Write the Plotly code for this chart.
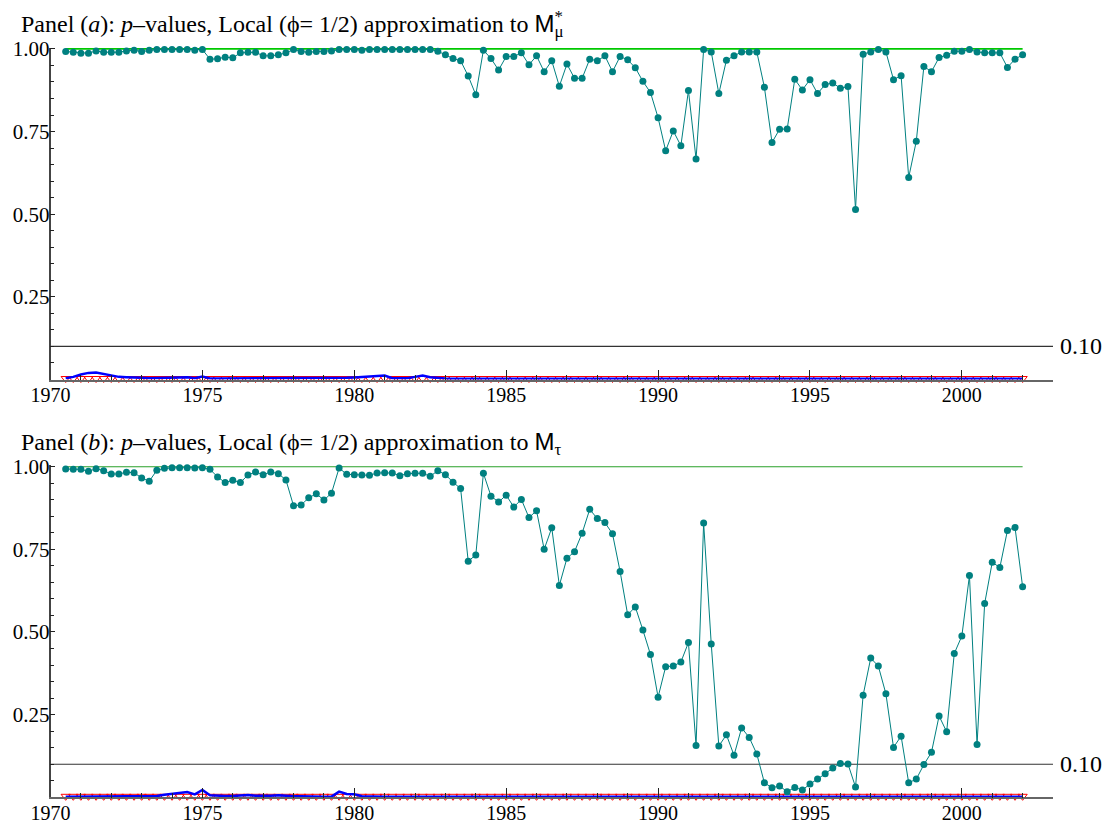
import pandas as pd
import plotly.graph_objects as go

# quarterly sample 1970Q3 - 2002Q1
periods = pd.period_range("1970Q3", "2002Q1", freq="Q")
dates = [p.year + (p.quarter - 1) / 4 for p in periods]

# panel (a): p-values, local approximation to M*_mu
pval_a = [
    0.992, 0.990, 0.987, 0.987, 0.994, 0.990, 0.990, 0.990, 0.994, 0.996,
    0.992, 0.996, 0.998, 0.998, 0.998, 0.998, 0.998, 0.996, 0.998, 0.969,
    0.970, 0.975, 0.973, 0.988, 0.990, 0.990, 0.979, 0.979, 0.982, 0.988,
    0.998, 0.992, 0.990, 0.992, 0.992, 0.994, 0.998, 0.998, 0.998, 0.996,
    0.998, 0.998, 0.998, 0.998, 0.998, 0.998, 0.998,
    0.998, 0.998, 0.993, 0.982, 0.971, 0.964, 0.918, 0.861, 0.996, 0.971,
    0.936, 0.977, 0.977, 0.988, 0.952, 0.979, 0.931, 0.964, 0.887, 0.954,
    0.911, 0.911, 0.969, 0.964, 0.979, 0.931, 0.977, 0.967, 0.943, 0.902,
    0.868, 0.792, 0.692, 0.752, 0.707, 0.874, 0.667, 0.998, 0.991, 0.865,
    0.966, 0.979, 0.991, 0.991, 0.991, 0.884, 0.717, 0.757, 0.758, 0.908,
    0.876, 0.907, 0.865, 0.892, 0.897, 0.881, 0.886, 0.514, 0.984, 0.991,
    0.998, 0.991, 0.907, 0.919, 0.611, 0.721, 0.947, 0.931, 0.974, 0.981,
    0.993, 0.993, 0.998, 0.991, 0.988, 0.988, 0.988, 0.944, 0.969, 0.982,
]

# panel (b): p-values, local approximation to M_tau
pval_b = [
    0.993, 0.992, 0.992, 0.986, 0.994, 0.988, 0.978, 0.978, 0.983, 0.982,
    0.966, 0.956, 0.989, 0.995, 0.997, 0.997, 0.997, 0.996, 0.997, 0.992,
    0.969, 0.952, 0.959, 0.952, 0.975, 0.984, 0.976, 0.984, 0.979, 0.960,
    0.882, 0.884, 0.906, 0.918, 0.899, 0.920, 0.996, 0.977, 0.976, 0.975,
    0.974, 0.981, 0.982, 0.981, 0.973, 0.979, 0.980, 0.980, 0.971, 0.988,
    0.976, 0.953, 0.934, 0.714, 0.733, 0.980, 0.911, 0.893, 0.914, 0.878,
    0.901, 0.846, 0.867, 0.750, 0.815, 0.641, 0.723, 0.743, 0.799, 0.871,
    0.843, 0.831, 0.797, 0.683, 0.552, 0.576, 0.506, 0.432, 0.303, 0.395,
    0.397, 0.409, 0.468, 0.157, 0.830, 0.464, 0.155, 0.189, 0.127, 0.210,
    0.181, 0.131, 0.044, 0.029, 0.034, 0.017, 0.030, 0.022, 0.040, 0.055,
    0.071, 0.089, 0.102, 0.101, 0.031, 0.309, 0.421, 0.397, 0.313, 0.151,
    0.185, 0.044, 0.055, 0.099, 0.136, 0.246, 0.198, 0.435, 0.488, 0.671,
    0.160, 0.586, 0.711, 0.695, 0.807, 0.816, 0.637,
]

# small p-values (blue line), panel a
low_a = [
    0.004, 0.008, 0.015, 0.020, 0.021, 0.017, 0.011, 0.008, 0.007, 0.007,
    0.005, 0.004, 0.004, 0.005, 0.006, 0.006, 0.007, 0.004, 0.009, 0.003,
    0.003, 0.003, 0.003, 0.003, 0.003, 0.003, 0.003, 0.003, 0.003, 0.003,
    0.003, 0.003, 0.003, 0.003, 0.003, 0.003, 0.003, 0.005, 0.006, 0.007,
    0.008, 0.009, 0.012, 0.004, 0.003, 0.004, 0.008, 0.012, 0.007, 0.004,
    0.003, 0.002, 0.002, 0.002, 0.002, 0.002, 0.002, 0.002, 0.002, 0.002,
    0.002, 0.002, 0.002, 0.002, 0.003, 0.004, 0.004, 0.003, 0.002, 0.002,
    0.002, 0.002, 0.002, 0.002, 0.002, 0.002, 0.002, 0.002, 0.002, 0.002,
    0.002, 0.002, 0.002, 0.002, 0.002, 0.002, 0.002, 0.002, 0.002, 0.002,
    0.002, 0.002, 0.002, 0.002, 0.002, 0.002, 0.002, 0.002, 0.002, 0.002,
    0.002, 0.002, 0.002, 0.002, 0.002, 0.002, 0.002, 0.002, 0.002, 0.002,
    0.002, 0.002, 0.002, 0.002, 0.002, 0.002, 0.002, 0.002, 0.002, 0.003,
    0.004, 0.004, 0.004, 0.003, 0.002, 0.002, 0.002,
]

# small p-values (blue line), panel b
low_b = [
    0.002, 0.002, 0.002, 0.002, 0.002, 0.002, 0.002, 0.002, 0.002, 0.002,
    0.002, 0.002, 0.004, 0.008, 0.011, 0.014, 0.016, 0.009, 0.022, 0.006,
    0.004, 0.004, 0.004, 0.005, 0.007, 0.005, 0.004, 0.005, 0.006, 0.004,
    0.003, 0.003, 0.002, 0.002, 0.002, 0.002, 0.017, 0.010, 0.009, 0.003,
    0.002, 0.002, 0.002, 0.002, 0.002, 0.002, 0.002, 0.002, 0.002, 0.002,
    0.002, 0.002, 0.002, 0.002, 0.002, 0.002, 0.002, 0.002, 0.002, 0.002,
    0.002, 0.002, 0.002, 0.002, 0.002, 0.002, 0.002, 0.002, 0.002, 0.002,
    0.002, 0.002, 0.002, 0.002, 0.002, 0.002, 0.002, 0.002, 0.002, 0.002,
    0.002, 0.002, 0.002, 0.002, 0.002, 0.002, 0.002, 0.002, 0.002, 0.002,
    0.002, 0.002, 0.002, 0.002, 0.002, 0.002, 0.002, 0.002, 0.002, 0.002,
    0.002, 0.002, 0.002, 0.002, 0.002, 0.002, 0.002, 0.002, 0.002, 0.002,
    0.002, 0.002, 0.002, 0.002, 0.002, 0.002, 0.002, 0.002, 0.002, 0.002,
    0.002, 0.002, 0.002, 0.002, 0.002, 0.002, 0.002,
]

# p-values of the other test (red triangles), essentially zero throughout
zero_a = [0.003] * 127
zero_b = [0.003] * 127

upper = 1.0
threshold = 0.10
year_ticks = [1970, 1975, 1980, 1985, 1990, 1995, 2000]
p_ticks = [0.25, 0.50, 0.75, 1.00]
p_labels = ["0.25", "0.50", "0.75", "1.00"]
Y_TOP = 1.004  # a hair above 1 so the line at 1 is not clipped

SERIF = "Liberation Serif"
W, H = 1110, 829
OFF = 8  # page body margin: figure starts 8px in from the window corner


def px(x):
    return (x - OFF) / W


def py(y):
    return 1 - (y - OFF) / H


PPU = 330.6  # pixels per unit of p-value
X0, X1 = px(50.5), px(1053)
DOM_A = [py(379.5), py(379.5 - PPU * Y_TOP)]
DOM_B = [py(797.3), py(797.3 - PPU * Y_TOP)]

fig = go.Figure()

for xa, ya, pv, low, zero in [("x", "y", pval_a, low_a, zero_a),
                              ("x2", "y2", pval_b, low_b, zero_b)]:
    fig.add_trace(go.Scatter(
        x=dates, y=zero, xaxis=xa, yaxis=ya, mode="markers",
        marker=dict(symbol="triangle-down-open", size=8, color="#ff0000",
                    line=dict(width=1, color="#ff0000")),
        cliponaxis=False, showlegend=False))
    fig.add_trace(go.Scatter(
        x=dates, y=low, xaxis=xa, yaxis=ya, mode="lines",
        line=dict(color="#0000ff", width=2.5), cliponaxis=False,
        showlegend=False))
    fig.add_trace(go.Scatter(
        x=dates, y=pv, xaxis=xa, yaxis=ya, mode="lines+markers",
        line=dict(color="#008080", width=1),
        marker=dict(size=7, color="#008080"),
        cliponaxis=False, showlegend=False))

# reference lines
for xa, ya, gcol, gw in [("x", "y", "#00c800", 1.6), ("x2", "y2", "#2aa02a", 1.1)]:
    fig.add_shape(type="line", xref=xa, yref=ya, x0=dates[0], x1=dates[-1],
                  y0=upper, y1=upper, line=dict(color=gcol, width=gw), layer="below")
    fig.add_shape(type="line", xref=xa, yref=ya, x0=1970, x1=2003,
                  y0=threshold, y1=threshold, line=dict(color="#333333", width=1.2),
                  layer="below")
    fig.add_annotation(x=px(1058), xref="paper", y=threshold, yref=ya,
                       text="0.10", showarrow=False, xanchor="left",
                       yanchor="middle", font=dict(family=SERIF, size=24, color="black"))

xax = dict(range=[1970, 2003], tickvals=year_ticks, ticks="inside", ticklen=10,
           tickcolor="#222", tickwidth=1, showline=True, linecolor="#666",
           linewidth=1.5, showgrid=False, zeroline=False, automargin=False,
           ticklabelstandoff=-3,
           tickfont=dict(family=SERIF, size=20, color="black"),
           minor=dict(dtick=1, tick0=1970, ticks="inside", ticklen=5,
                      tickcolor="#222", showgrid=False))
yax = dict(range=[0, Y_TOP], tickvals=p_ticks, ticktext=p_labels, ticks="inside",
           ticklen=5, tickcolor="#222", showline=True, linecolor="#444",
           linewidth=1.5, showgrid=False, zeroline=False, automargin=False,
           ticklabelstandoff=-5,
           tickfont=dict(family=SERIF, size=21, color="black"),
           minor=dict(dtick=0.05, tick0=0, ticks="inside", ticklen=4,
                      tickcolor="#222", showgrid=False))

fig.update_layout(
    width=W, height=H, margin=dict(l=0, r=0, t=0, b=0, autoexpand=False),
    paper_bgcolor="white", plot_bgcolor="white",
    xaxis=dict(xax, domain=[X0, X1], anchor="y"),
    yaxis=dict(yax, domain=DOM_A, anchor="x"),
    xaxis2=dict(xax, domain=[X0, X1], anchor="y2"),
    yaxis2=dict(yax, domain=DOM_B, anchor="x2"),
)

# panel titles
M = "<span style='font-family:Liberation Sans'>M</span>"
prefix_a = "Panel (<i>a</i>): <i>p</i>\u2013values, Local (\u03d5= 1/2) approximation to "
prefix_b = "Panel (<i>b</i>): <i>p</i>\u2013values, Local (\u03d5= 1/2) approximation to "
hide = "<span style='color:rgba(0,0,0,0)'>%s</span>"
tfont = dict(family=SERIF, size=24, color="black")

fig.add_annotation(x=px(19), y=py(43), xref="paper", yref="paper",
                   xanchor="left", yanchor="bottom", showarrow=False,
                   text=prefix_a + M + "<sub>\u03bc</sub>", font=tfont)
fig.add_annotation(x=px(19), y=py(43), xref="paper", yref="paper",
                   xanchor="left", yanchor="bottom", showarrow=False,
                   text=hide % (prefix_a + M) + "<sup>*</sup><sub>" + hide % "\u03bc" + "</sub>",
                   font=tfont)
fig.add_annotation(x=px(19), y=py(461), xref="paper", yref="paper",
                   xanchor="left", yanchor="bottom", showarrow=False,
                   text=prefix_b + M + "<sub>\u03c4</sub>", font=tfont)

fig.write_html("out.html")
